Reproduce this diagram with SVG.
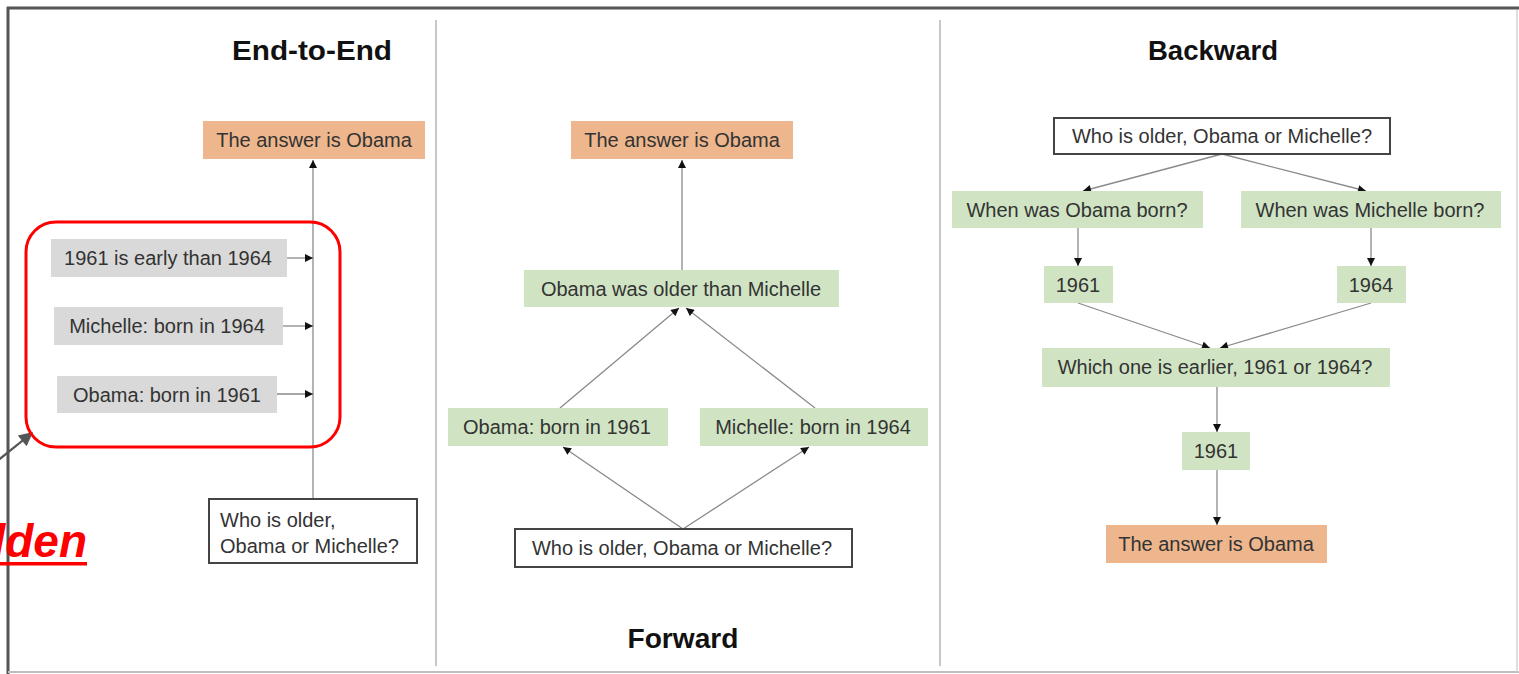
<svg xmlns="http://www.w3.org/2000/svg" width="1519" height="674" viewBox="0 0 1519 674">
  <style>
    .title { font-family: "Liberation Sans", Arial, sans-serif; font-weight: bold; font-size: 28px; fill: #111; text-anchor: middle; }
    .lbl { font-family: "Liberation Sans", Arial, sans-serif; font-size: 20px; fill: #333; text-anchor: middle; }
    .lbl-l { font-family: "Liberation Sans", Arial, sans-serif; font-size: 20px; fill: #333; }
    .answer { fill: #EDB68D; }
    .step { fill: #D0E4C4; }
    .fact { fill: #D9D9D9; }
    .question { fill: #fff; stroke: #444; stroke-width: 2; }
    .divider { stroke: #c8c8c8; stroke-width: 2; }
    .conn { stroke: #8a8a8a; stroke-width: 1.3; fill: none; marker-end: url(#tip); }
  </style>
  <defs>
    <marker id="tip" viewBox="0 0 10 10" refX="10" refY="5" markerWidth="9" markerHeight="8" markerUnits="userSpaceOnUse" orient="auto">
      <path d="M0,0 L10,5 L0,10 z" fill="#111"/>
    </marker>
    <marker id="tipDark" viewBox="0 0 10 10" refX="9" refY="5" markerWidth="16" markerHeight="14" markerUnits="userSpaceOnUse" orient="auto">
      <path d="M0,0 L10,5 L0,10 z" fill="#555"/>
    </marker>
  </defs>

  <rect x="0" y="0" width="1519" height="674" fill="#fff"/>

  <!-- outer frame -->
  <g id="frame">
    <line x1="7" y1="8" x2="1519" y2="8" stroke="#555" stroke-width="3"/>
    <line x1="8" y1="7" x2="8" y2="674" stroke="#555" stroke-width="3"/>
    <line x1="8" y1="672" x2="1519" y2="672" stroke="#bdbdbd" stroke-width="2"/>
    <line x1="1517" y1="10" x2="1517" y2="672" stroke="#d5d5d5" stroke-width="1.5"/>
  </g>

  <!-- panel dividers -->
  <g id="dividers">
    <line class="divider" x1="436" y1="20" x2="436" y2="666"/>
    <line class="divider" x1="940" y1="20" x2="940" y2="666"/>
  </g>

  <!-- titles -->
  <g id="titles">
    <text class="title" x="312" y="60" textLength="160" lengthAdjust="spacingAndGlyphs">End-to-End</text>
    <text class="title" x="683" y="648" textLength="111" lengthAdjust="spacingAndGlyphs">Forward</text>
    <text class="title" x="1213" y="60" textLength="130" lengthAdjust="spacingAndGlyphs">Backward</text>
  </g>

  <!-- connectors -->
  <g id="connectors">
    <!-- end-to-end -->
    <line class="conn" x1="313" y1="499" x2="313" y2="160"/>
    <line class="conn" x1="287" y1="258" x2="313" y2="258"/>
    <line class="conn" x1="283" y1="326" x2="313" y2="326"/>
    <line class="conn" x1="277" y1="394" x2="313" y2="394"/>
    <!-- forward -->
    <line class="conn" x1="682" y1="270" x2="682" y2="160"/>
    <line class="conn" x1="560" y1="408" x2="679" y2="308"/>
    <line class="conn" x1="815" y1="408" x2="686" y2="308"/>
    <line class="conn" x1="683" y1="529" x2="563" y2="447"/>
    <line class="conn" x1="683" y1="529" x2="809" y2="447"/>
    <!-- backward -->
    <line class="conn" x1="1222" y1="154" x2="1083" y2="191"/>
    <line class="conn" x1="1222" y1="154" x2="1366" y2="191"/>
    <line class="conn" x1="1078" y1="228" x2="1078" y2="266"/>
    <line class="conn" x1="1371" y1="228" x2="1371" y2="266"/>
    <line class="conn" x1="1078" y1="303" x2="1210" y2="348"/>
    <line class="conn" x1="1371" y1="303" x2="1220" y2="348"/>
    <line class="conn" x1="1217" y1="387" x2="1217" y2="432"/>
    <line class="conn" x1="1217" y1="470" x2="1217" y2="525"/>
    <!-- pointer into the highlighted group -->
    <line x1="-4" y1="462" x2="32" y2="433" stroke="#555" stroke-width="2.2" marker-end="url(#tipDark)"/>
  </g>

  <!-- End-to-End panel -->
  <g id="e2e-answer">
    <rect class="answer" x="203" y="121" width="222" height="38"/>
    <text class="lbl" x="314" y="147">The answer is Obama</text>
  </g>
  <g id="e2e-fact-compare">
    <rect class="fact" x="51" y="239" width="236" height="38"/>
    <text class="lbl" x="168" y="265">1961 is early than 1964</text>
  </g>
  <g id="e2e-fact-michelle">
    <rect class="fact" x="54" y="307" width="229" height="38"/>
    <text class="lbl" x="167" y="333">Michelle: born in 1964</text>
  </g>
  <g id="e2e-fact-obama">
    <rect class="fact" x="57" y="376" width="220" height="37"/>
    <text class="lbl" x="167" y="402">Obama: born in 1961</text>
  </g>
  <g id="e2e-highlight">
    <rect x="26" y="222" width="314" height="225" rx="30" ry="30" fill="none" stroke="#f00" stroke-width="3"/>
  </g>
  <g id="e2e-question">
    <rect class="question" x="209" y="499" width="208" height="64"/>
    <text class="lbl-l" x="220" y="527">Who is older,</text>
    <text class="lbl-l" x="220" y="553">Obama or Michelle?</text>
  </g>
  <g id="side-label">
    <text x="87" y="557" text-anchor="end" font-family="'Liberation Sans', Arial, sans-serif" font-size="46" font-weight="bold" font-style="italic" fill="#f00">lden</text>
    <rect x="0" y="562" width="87" height="3.5" fill="#f00"/>
  </g>

  <!-- Forward panel -->
  <g id="fwd-answer">
    <rect class="answer" x="571" y="121" width="222" height="38"/>
    <text class="lbl" x="682" y="147">The answer is Obama</text>
  </g>
  <g id="fwd-conclusion">
    <rect class="step" x="524" y="270" width="315" height="37"/>
    <text class="lbl" x="681" y="296">Obama was older than Michelle</text>
  </g>
  <g id="fwd-obama">
    <rect class="step" x="448" y="408" width="220" height="38"/>
    <text class="lbl" x="557" y="434">Obama: born in 1961</text>
  </g>
  <g id="fwd-michelle">
    <rect class="step" x="700" y="408" width="228" height="38"/>
    <text class="lbl" x="813" y="434">Michelle: born in 1964</text>
  </g>
  <g id="fwd-question">
    <rect class="question" x="515" y="529" width="337" height="38"/>
    <text class="lbl" x="682" y="555">Who is older, Obama or Michelle?</text>
  </g>

  <!-- Backward panel -->
  <g id="bwd-question">
    <rect class="question" x="1054" y="118" width="336" height="36"/>
    <text class="lbl" x="1222" y="143">Who is older, Obama or Michelle?</text>
  </g>
  <g id="bwd-ask-obama">
    <rect class="step" x="952" y="191" width="251" height="37"/>
    <text class="lbl" x="1077" y="217">When was Obama born?</text>
  </g>
  <g id="bwd-ask-michelle">
    <rect class="step" x="1241" y="191" width="260" height="37"/>
    <text class="lbl" x="1370" y="217">When was Michelle born?</text>
  </g>
  <g id="bwd-1961">
    <rect class="step" x="1044" y="266" width="69" height="37"/>
    <text class="lbl" x="1078" y="292">1961</text>
  </g>
  <g id="bwd-1964">
    <rect class="step" x="1337" y="266" width="69" height="37"/>
    <text class="lbl" x="1371" y="292">1964</text>
  </g>
  <g id="bwd-compare">
    <rect class="step" x="1042" y="348" width="348" height="39"/>
    <text class="lbl" x="1215" y="374">Which one is earlier, 1961 or 1964?</text>
  </g>
  <g id="bwd-earlier">
    <rect class="step" x="1182" y="432" width="68" height="38"/>
    <text class="lbl" x="1216" y="458">1961</text>
  </g>
  <g id="bwd-answer">
    <rect class="answer" x="1106" y="525" width="221" height="38"/>
    <text class="lbl" x="1216" y="551">The answer is Obama</text>
  </g>
</svg>
